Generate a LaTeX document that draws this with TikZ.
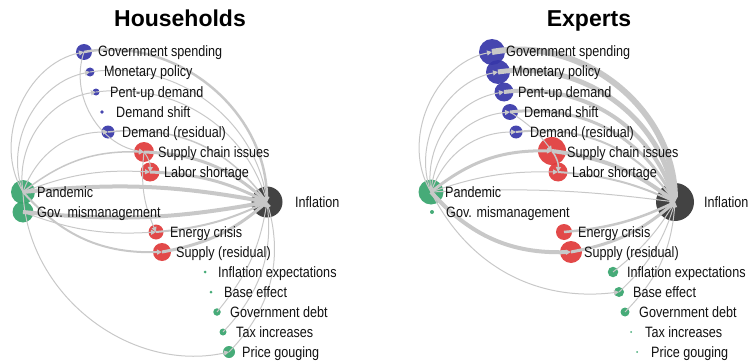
\documentclass[tikz,border=0pt]{standalone}
\usepackage{fontspec}
\setmainfont{Liberation Sans}[FakeStretch=0.84]
\newfontfamily\tfont{Liberation Sans}
\usetikzlibrary{arrows.meta}
\definecolor{cblue}{HTML}{3636A8}
\definecolor{cred}{HTML}{E03A3A}
\definecolor{cgreen}{HTML}{36A46C}
\definecolor{cinf}{HTML}{333333}
\definecolor{cedge}{HTML}{C8C8C8}
\definecolor{ctext}{HTML}{111111}
\tikzset{
  dot/.style={circle, inner sep=0pt, draw=none, fill opacity=0.92},
  bdot/.style={dot, fill=cblue},
  rdot/.style={dot, fill=cred},
  gdot/.style={dot, fill=cgreen},
  idot/.style={dot, fill=cinf},
  lab/.style={anchor=base west, inner sep=0pt, text=ctext, font=\fontsize{15}{17}\selectfont},
  ttl/.style={anchor=base, inner sep=0pt, text=black, font=\tfont\bfseries\fontsize{23}{26}\selectfont},
  edge/.style={draw=cedge, line width=1pt, -{Triangle[length=5pt,width=5pt]}},
}
\begin{document}
\begin{tikzpicture}[x=1pt,y=-1pt]
\path[use as bounding box] (0,0) rectangle (752,361);

% ---------------- Titles
\node[ttl] (t-h) at (180,27) {Households};
\node[ttl] (t-e) at (589,27) {Experts};

% ================= HOUSEHOLDS =================
\node[bdot, minimum size=16pt] (h-GS) at (84,52) {};
\node[bdot, minimum size=9pt]  (h-MP) at (90,72) {};
\node[bdot, minimum size=7pt]  (h-PU) at (96,92) {};
\node[bdot, minimum size=3.6pt] (h-DS) at (102,112) {};
\node[bdot, minimum size=13pt] (h-DR) at (108,132) {};
\node[rdot, minimum size=20pt] (h-SC) at (144,152) {};
\node[rdot, minimum size=19pt] (h-LS) at (150,172) {};
\node[gdot, minimum size=24pt] (h-PA) at (23,192) {};
\node[gdot, minimum size=21pt] (h-GM) at (23,212) {};
\node[idot, minimum size=31pt] (h-IN) at (267,202) {};
\node[rdot, minimum size=15pt] (h-EC) at (156,232) {};
\node[rdot, minimum size=18pt] (h-SR) at (162,252) {};
\node[gdot, minimum size=3pt]  (h-IE) at (205,272) {};
\node[gdot, minimum size=3pt]  (h-BE) at (211,292) {};
\node[gdot, minimum size=7.5pt] (h-GD) at (217,312) {};
\node[gdot, minimum size=7pt]  (h-TI) at (223,332) {};
\node[gdot, minimum size=12pt] (h-PG) at (229,352) {};

% edges
\draw[edge] (h-PA.center) to[bend left=55] (h-GS.center);
\draw[edge] (h-PA.center) to[bend left=50] (h-MP.center);
\draw[edge] (h-PA.center) to[bend left=45] (h-PU.center);
\draw[edge] (h-PA.center) to[bend left=35] (h-DR.center);
\draw[edge, line width=1.5pt] (h-PA.center) to[bend left=20] (h-SC.center);
\draw[edge] (h-PA.center) to[bend left=12] (h-LS.center);
\draw[edge, line width=4pt] (h-PA.center) to[bend left=8] (h-IN.center);
\draw[edge, line width=4pt] (h-GM.center) to[bend right=8] (h-IN.center);
\draw[edge] (h-GM.center) to[bend right=12] (h-EC.center);
\draw[edge, line width=2pt] (h-PA.center) to[bend right=25] (h-SR.center);
\draw[edge] (h-PA.center) to[bend right=50] (h-PG.center);
\draw[edge] (h-GS.center) to[bend right=50] (h-SC.center);
\draw[edge] (h-SC.center) to[bend left=20] (h-LS.center);
\draw[edge] (h-SC.center) to[bend right=15] (h-EC.center);
\draw[edge, line width=2.5pt] (h-GS.center) to[bend left=50] (h-IN.center);
\draw[edge] (h-MP.center) to[bend left=45] (h-IN.center);
\draw[edge] (h-PU.center) to[bend left=40] (h-IN.center);
\draw[edge, line width=1.5pt] (h-DR.center) to[bend left=30] (h-IN.center);
\draw[edge, line width=3pt] (h-SC.center) to[bend left=20] (h-IN.center);
\draw[edge, line width=3pt] (h-LS.center) to[bend left=12] (h-IN.center);
\draw[edge, line width=2pt] (h-EC.center) to[bend right=10] (h-IN.center);
\draw[edge, line width=3pt] (h-SR.center) to[bend right=15] (h-IN.center);
\draw[edge] (h-GD.center) to[bend right=15] (h-IN.center);
\draw[edge] (h-TI.center) to[bend right=25] (h-IN.center);
\draw[edge] (h-PG.center) to[bend right=30] (h-IN.center);

% labels
\node[lab] (h-GS-l) at (98,57) {Government spending};
\node[lab] (h-MP-l) at (104,77) {Monetary policy};
\node[lab] (h-PU-l) at (110,97) {Pent-up demand};
\node[lab] (h-DS-l) at (116,117) {Demand shift};
\node[lab] (h-DR-l) at (122,137) {Demand (residual)};
\node[lab] (h-SC-l) at (158,157) {Supply chain issues};
\node[lab] (h-LS-l) at (164,177) {Labor shortage};
\node[lab] (h-PA-l) at (37,197) {Pandemic};
\node[lab] (h-GM-l) at (37,217) {Gov. mismanagement};
\node[lab] (h-IN-l) at (295,207) {Inflation};
\node[lab] (h-EC-l) at (170,237) {Energy crisis};
\node[lab] (h-SR-l) at (176,257) {Supply (residual)};
\node[lab] (h-IE-l) at (218,277) {Inflation expectations};
\node[lab] (h-BE-l) at (224,297) {Base effect};
\node[lab] (h-GD-l) at (230,317) {Government debt};
\node[lab] (h-TI-l) at (236,337) {Tax increases};
\node[lab] (h-PG-l) at (242,357) {Price gouging};

% ================= EXPERTS =================
\begin{scope}[xshift=408pt]
\node[bdot, minimum size=26pt] (e-GS) at (84,52) {};
\node[bdot, minimum size=24pt] (e-MP) at (90,72) {};
\node[bdot, minimum size=19pt] (e-PU) at (96,92) {};
\node[bdot, minimum size=16pt] (e-DS) at (102,112) {};
\node[bdot, minimum size=13pt] (e-DR) at (108,132) {};
\node[rdot, minimum size=28pt] (e-SC) at (144,151) {};
\node[rdot, minimum size=19pt] (e-LS) at (150,172) {};
\node[gdot, minimum size=25pt] (e-PA) at (23,192) {};
\node[gdot, minimum size=4pt]  (e-GM) at (24,212) {};
\node[idot, minimum size=38pt] (e-IN) at (267,202) {};
\node[rdot, minimum size=16pt] (e-EC) at (156,232) {};
\node[rdot, minimum size=22pt] (e-SR) at (163,252) {};
\node[gdot, minimum size=10.5pt] (e-IE) at (205,272) {};
\node[gdot, minimum size=10pt] (e-BE) at (211,292) {};
\node[gdot, minimum size=9pt]  (e-GD) at (217,312) {};
\node[gdot, minimum size=2pt]  (e-TI) at (223,332) {};
\node[gdot, minimum size=2pt]  (e-PG) at (229,352) {};

\draw[edge] (e-PA.center) to[bend left=55] (e-GS.center);
\draw[edge] (e-PA.center) to[bend left=50] (e-MP.center);
\draw[edge] (e-PA.center) to[bend left=45] (e-PU.center);
\draw[edge] (e-PA.center) to[bend left=40] (e-DS.center);
\draw[edge] (e-PA.center) to[bend left=35] (e-DR.center);
\draw[edge, line width=3pt] (e-PA.center) to[bend left=20] (e-SC.center);
\draw[edge] (e-PA.center) to[bend left=10] (e-LS.center);
\draw[edge] (e-PA.center) to[bend left=5] (e-IN.center);
\draw[edge, line width=4pt] (e-PA.center) to[bend right=25] (e-SR.center);
\draw[edge] (e-PA.center) to[bend right=35] (e-BE.center);
\draw[edge] (e-DS.center) to[bend left=10] (e-SC.center);
\draw[edge, line width=1.5pt] (e-SC.center) to[bend left=20] (e-LS.center);
\draw[edge, line width=6pt] (e-GS.center) to[bend left=50] (e-IN.center);
\draw[edge, line width=5pt] (e-MP.center) to[bend left=45] (e-IN.center);
\draw[edge, line width=4pt] (e-PU.center) to[bend left=40] (e-IN.center);
\draw[edge, line width=3pt] (e-DS.center) to[bend left=35] (e-IN.center);
\draw[edge, line width=2pt] (e-DR.center) to[bend left=30] (e-IN.center);
\draw[edge, line width=4pt] (e-SC.center) to[bend left=15] (e-IN.center);
\draw[edge, line width=2pt] (e-LS.center) to[bend left=10] (e-IN.center);
\draw[edge, line width=2.5pt] (e-EC.center) to[bend right=10] (e-IN.center);
\draw[edge, line width=3pt] (e-SR.center) to[bend right=15] (e-IN.center);
\draw[edge] (e-IE.center) to[bend right=10] (e-IN.center);
\draw[edge] (e-BE.center) to[bend right=15] (e-IN.center);
\draw[edge] (e-GD.center) to[bend right=20] (e-IN.center);

\node[lab] (e-GS-l) at (98,57) {Government spending};
\node[lab] (e-MP-l) at (104,77) {Monetary policy};
\node[lab] (e-PU-l) at (110,97) {Pent-up demand};
\node[lab] (e-DS-l) at (116,117) {Demand shift};
\node[lab] (e-DR-l) at (122,137) {Demand (residual)};
\node[lab] (e-SC-l) at (159,157) {Supply chain issues};
\node[lab] (e-LS-l) at (164,177) {Labor shortage};
\node[lab] (e-PA-l) at (37,197) {Pandemic};
\node[lab] (e-GM-l) at (38,217) {Gov. mismanagement};
\node[lab] (e-IN-l) at (296,207) {Inflation};
\node[lab] (e-EC-l) at (170,237) {Energy crisis};
\node[lab] (e-SR-l) at (176,257) {Supply (residual)};
\node[lab] (e-IE-l) at (219,277) {Inflation expectations};
\node[lab] (e-BE-l) at (225,297) {Base effect};
\node[lab] (e-GD-l) at (231,317) {Government debt};
\node[lab] (e-TI-l) at (237,337) {Tax increases};
\node[lab] (e-PG-l) at (243,357) {Price gouging};
\end{scope}
\end{tikzpicture}
\end{document}
